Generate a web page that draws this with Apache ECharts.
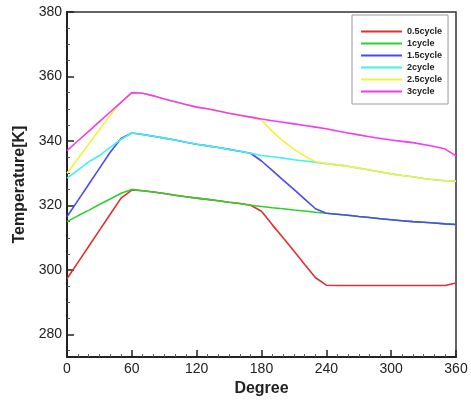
<!DOCTYPE html>
<html>
<head>
<meta charset="utf-8">
<script src="https://cdn.jsdelivr.net/npm/echarts@6/dist/echarts.min.js"></script>
<style>
  html, body { margin: 0; padding: 0; background: #fff; }
  #main { width: 471px; height: 402px; }
</style>
</head>
<body>
<div id="main"></div>
<script>
// x positions (degree), one value per 10 degrees
var degrees = [0,10,20,30,40,50,60,70,80,90,100,110,120,130,140,150,160,170,180,
               190,200,210,220,230,240,250,260,270,280,290,300,310,320,330,340,350,360];

var cycle05 = [297.3,302.3,307.3,312.3,317.3,322.3,324.8,324.6,324.2,323.7,323.2,322.7,322.3,321.9,321.5,321,320.6,320.1,318.2,
               314,310,305.9,301.7,297.6,295.3,295.2,295.2,295.2,295.2,295.2,295.2,295.2,295.2,295.2,295.2,295.2,296];
var cycle1 = [315,316.8,318.5,320.3,322,323.8,325,324.6,324.2,323.7,323.2,322.7,322.3,321.9,321.5,321,320.6,320.1,319.7,
              319.3,319,318.6,318.3,317.9,317.6,317.3,317,316.6,316.3,315.9,315.6,315.3,315,314.8,314.6,314.3,314.1];
var cycle15 = [316.5,321.5,326.5,331.5,336.5,340.8,342.5,342,341.5,340.9,340.3,339.6,339,338.5,338,337.4,336.8,336.2,333.8,
               330.9,327.9,325,322,319,317.6,317.3,317,316.6,316.3,315.9,315.6,315.3,315,314.8,314.6,314.3,314.1];
var cycle2 = [328.5,331,333.5,335.5,338,340.5,342.5,342,341.5,340.9,340.3,339.6,339,338.5,338,337.4,336.8,336.2,335.5,
              335.1,334.7,334.2,333.8,333.4,333,332.6,332.2,331.6,331,330.4,329.8,329.3,328.9,328.4,328,327.7,327.5];
var cycle25 = [330,334.5,339,343.5,348,352,355,354.8,354,353,352.2,351.3,350.5,350,349.3,348.6,348,347.4,346.5,
               343,340,337.5,335.3,333.6,333,332.6,332.2,331.6,331,330.4,329.8,329.3,328.9,328.4,328,327.7,327.5];
var cycle3 = [337,340,343,346,349,352,355,354.8,354,353,352.2,351.3,350.5,350,349.3,348.6,348,347.4,346.8,
              346.3,345.8,345.3,344.8,344.3,343.8,343.1,342.5,341.9,341.3,340.8,340.3,339.9,339.5,338.9,338.3,337.5,335.4];

var seriesNames = ['0.5cycle','1cycle','1.5cycle','2cycle','2.5cycle','3cycle'];
var seriesData = [cycle05, cycle1, cycle15, cycle2, cycle25, cycle3];
var seriesColors = ['#e03030','#2ed02e','#4a4af2','#3ef2f2','#f2f23a','#f23af2'];

// tick labels
var yTicks = [280,300,320,340,360,380];
var yMinorTicks = [275,285,290,295,305,310,315,325,330,335,345,350,355,365,370,375];

var chart = echarts.init(document.getElementById('main'));

var series = [];
for (var k = 0; k < seriesNames.length; k++) {
    series.push({
        name: seriesNames[k],
        type: 'line',
        symbol: 'none',
        yAxisIndex: 0,
        data: degrees.map(function (d, i) { return [d, seriesData[k][i]]; }),
        lineStyle: { color: seriesColors[k], width: 1.6 },
        itemStyle: { color: seriesColors[k] }
    });
}

var option = {
    animation: false,
    backgroundColor: '#fff',
    grid: {
        left: 67,
        right: 15,
        top: 12,
        bottom: 35,
        show: true,
        borderColor: '#333',
        borderWidth: 1.5
    },
    legend: {
        orient: 'vertical',
        left: 352,
        top: 15,
        padding: [12, 6, 8, 8],
        itemWidth: 41,
        itemHeight: 8,
        itemGap: 3,
        backgroundColor: '#fff',
        borderColor: '#999',
        borderWidth: 1,
        borderRadius: 0,
        data: seriesNames,
        itemStyle: { opacity: 0 },
        lineStyle: { width: 2 },
        textStyle: {
            fontFamily: 'Liberation Sans',
            fontSize: 9,
            fontWeight: 'bold',
            color: '#222'
        }
    },
    xAxis: {
        type: 'value',
        min: 0,
        max: 360,
        interval: 60,
        name: 'Degree',
        nameLocation: 'middle',
        nameGap: 15,
        nameTextStyle: { fontFamily: 'Liberation Sans', fontSize: 16, fontWeight: 'bold', color: '#222' },
        axisLine: { lineStyle: { color: '#222', width: 2 } },
        axisTick: { inside: true, length: 7, lineStyle: { color: '#222', width: 1.5 } },
        minorTick: { show: true, splitNumber: 6, length: 3, lineStyle: { color: '#555', width: 1 } },
        axisLabel: { fontFamily: 'Liberation Sans', fontSize: 14, color: '#222', margin: 5 },
        splitLine: { show: false }
    },
    yAxis: [{
        type: 'value',
        min: 273,
        max: 380,
        name: 'Temperature[K]',
        nameLocation: 'middle',
        nameGap: 38,
        nameTextStyle: { fontFamily: 'Liberation Sans', fontSize: 16, fontWeight: 'bold', color: '#222' },
        axisLine: { show: true, lineStyle: { color: '#222', width: 2 } },
        axisTick: { show: true, inside: true, length: 7, customValues: yTicks, lineStyle: { color: '#222', width: 1.5 } },
        axisLabel: { fontFamily: 'Liberation Sans', fontSize: 14, color: '#222', margin: 5, customValues: yTicks },
        splitLine: { show: false }
    }, {
        type: 'value',
        min: 273,
        max: 380,
        position: 'left',
        axisLine: { show: false },
        axisTick: { show: true, inside: true, length: 3, customValues: yMinorTicks, lineStyle: { color: '#555', width: 1 } },
        axisLabel: { show: false },
        splitLine: { show: false }
    }],
    series: series
};

chart.setOption(option);
</script>
</body>
</html>
